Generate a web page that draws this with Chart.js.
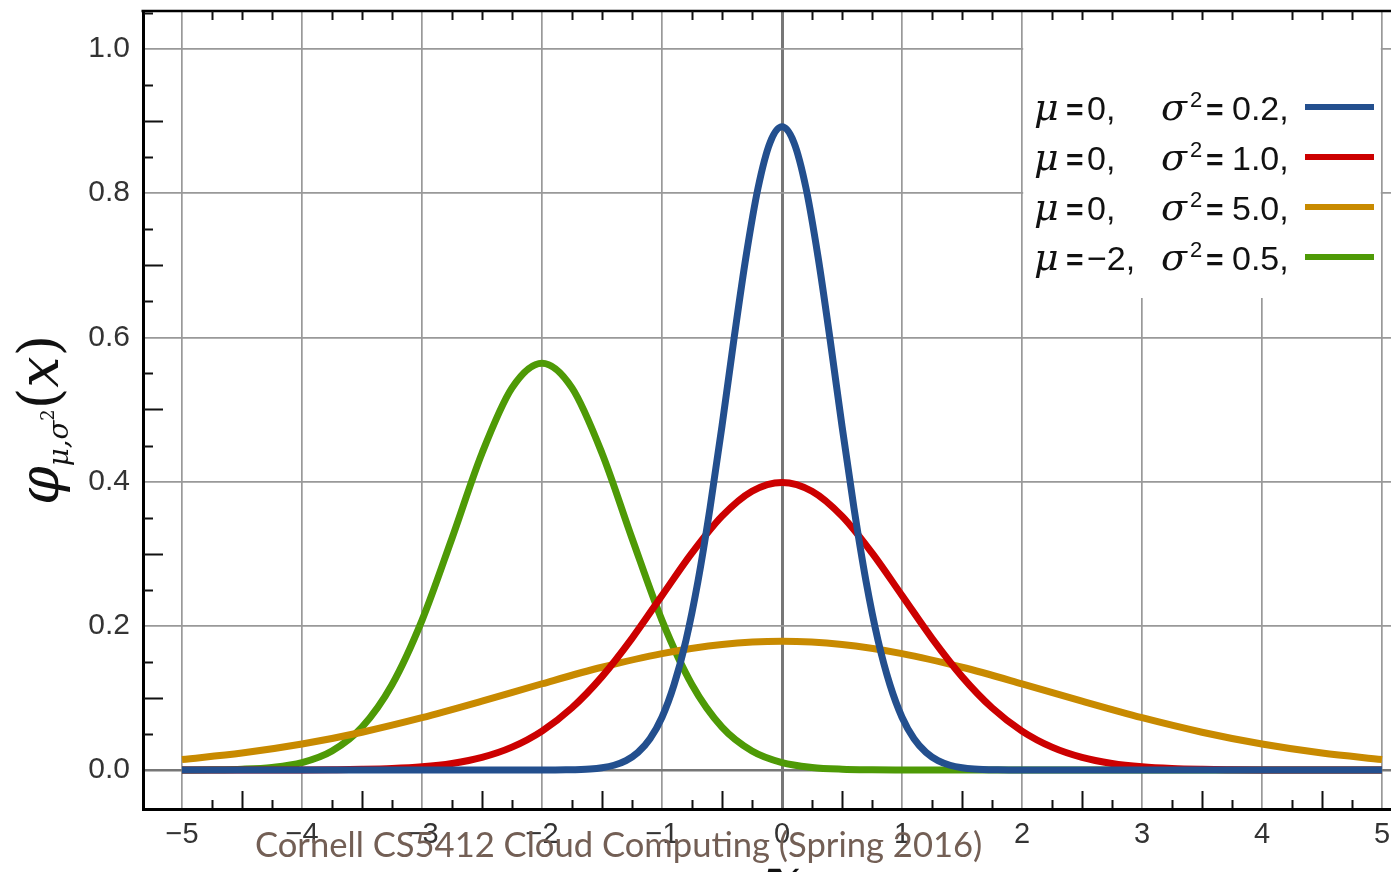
<!DOCTYPE html>
<html><head><meta charset="utf-8">
<script src="https://cdn.jsdelivr.net/npm/chart.js@4.4.0/dist/chart.umd.min.js"></script>
<style>
html,body{margin:0;padding:0;background:#fff;overflow:hidden;width:1391px;height:872px;}
#wrap{position:relative;width:1430px;height:872px;}
#footer{position:absolute;left:255px;top:823px;font-family:Lato,"Open Sans",sans-serif;font-size:34.6px;line-height:1.2;color:#735f55;white-space:nowrap;}
</style></head><body>
<div id="wrap"><canvas id="c" width="1430" height="872"></canvas>
<div id="footer">Cornell CS5412 Cloud Computing (Spring 2016)</div></div>
<script>
// ---- data ----
const xTickValues = [-5,-4,-3,-2,-1,0,1,2,3,4,5];
const xTickLabels = ['\u22125','\u22124','\u22123','\u22122','\u22121','0','1','2','3','4','5'];
const yTickValues = [0,0.2,0.4,0.6,0.8,1.0];
const yTickLabels = ['0.0','0.2','0.4','0.6','0.8','1.0'];

const seriesMu = ['0','0','0','\u22122'];
const seriesSigma2 = ['0.2','1.0','5.0','0.5'];
const seriesColors = ['#234f8e','#cc0000','#c88a00','#4e9a06'];

const blueX = [-5,-4,-3,-2.5,-2,-1.8,-1.6,-1.5,-1.4,-1.3,-1.2,-1.1,-1.0,-0.9,-0.8,-0.7,-0.6,-0.5,-0.4,-0.3,-0.2,-0.1,0,
               0.1,0.2,0.3,0.4,0.5,0.6,0.7,0.8,0.9,1.0,1.1,1.2,1.3,1.4,1.5,1.6,1.8,2,2.5,3,4,5];
const blueY = [0,0,0,0,0.0000,0.0003,0.0015,0.0032,0.0066,0.0130,0.0244,0.0433,0.0732,0.118,0.180,0.262,0.363,0.477,0.598,0.712,0.807,0.870,0.892,
               0.870,0.807,0.712,0.598,0.477,0.363,0.262,0.180,0.118,0.0732,0.0433,0.0244,0.0130,0.0066,0.0032,0.0015,0.0003,0.0000,0,0,0,0];

const redX = [-5,-4.75,-4.5,-4.25,-4,-3.75,-3.5,-3.25,-3,-2.75,-2.5,-2.25,-2,-1.75,-1.5,-1.25,-1,-0.75,-0.5,-0.25,0,
              0.25,0.5,0.75,1,1.25,1.5,1.75,2,2.25,2.5,2.75,3,3.25,3.5,3.75,4,4.25,4.5,4.75,5];
const redY = [0,0,0,0,0.0001,0.0004,0.0009,0.0020,0.0044,0.0091,0.0175,0.0317,0.0540,0.0863,0.1295,0.1826,0.2420,0.3011,0.3521,0.3867,0.3989,
              0.3867,0.3521,0.3011,0.2420,0.1826,0.1295,0.0863,0.0540,0.0317,0.0175,0.0091,0.0044,0.0020,0.0009,0.0004,0.0001,0,0,0,0];

const orangeX = [-5,-4.5,-4,-3.5,-3,-2.5,-2,-1.5,-1,-0.5,0,0.5,1,1.5,2,2.5,3,3.5,4,4.5,5];
const orangeY = [0.0146,0.0235,0.0360,0.0524,0.0725,0.0955,0.1196,0.1425,0.1614,0.1740,0.1784,
                 0.1740,0.1614,0.1425,0.1196,0.0955,0.0725,0.0524,0.0360,0.0235,0.0146];

const greenX = [-5,-4.75,-4.5,-4.25,-4,-3.75,-3.5,-3.25,-3,-2.75,-2.5,-2.25,-2,-1.75,-1.5,-1.25,-1,-0.75,-0.5,-0.25,0,0.25,0.5,0.75,1,1.5,2,3,4,5];
const greenY = [0.0001,0.0003,0.0011,0.0036,0.0103,0.0264,0.0595,0.1183,0.2076,0.3215,0.4394,0.5300,0.5642,
                0.5300,0.4394,0.3215,0.2076,0.1183,0.0595,0.0264,0.0103,0.0036,0.0011,0.0003,0.0001,0,0,0,0,0];

const toPts = (xs, ys) => xs.map((x, i) => ({x: x, y: ys[i]}));
const seriesPoints = [toPts(blueX, blueY), toPts(redX, redY), toPts(orangeX, orangeY), toPts(greenX, greenY)];

// ---- decorations plugin ----
const deco = {
  id: 'deco',
  beforeDatasetsDraw(chart) {
    const ctx = chart.ctx, xs = chart.scales.x, a = chart.chartArea;
    ctx.save();
    ctx.fillStyle = '#fff';
    ctx.fillRect(xs.getPixelForValue(2) + 1.2, a.top + 1, xs.getPixelForValue(5) - xs.getPixelForValue(2) - 2.4, 297 - a.top);
    ctx.restore();
  },
  afterDraw(chart) {
    const ctx = chart.ctx, xs = chart.scales.x, ys = chart.scales.y, a = chart.chartArea;
    ctx.save();
    // top border
    ctx.strokeStyle = '#000'; ctx.lineWidth = 2.5;
    ctx.beginPath(); ctx.moveTo(a.left - 1.5, a.top); ctx.lineTo(a.right, a.top); ctx.stroke();
    // minor ticks
    ctx.lineWidth = 2; ctx.strokeStyle = '#111';
    ctx.beginPath();
    for (let k = -20; k <= 20; k++) {
      if (k % 4 === 0) continue;
      const px = Math.round(xs.getPixelForValue(k / 4)) + 0.5;
      const len = (k % 2 === 0) ? 18 : 9;
      ctx.moveTo(px, a.bottom - 1); ctx.lineTo(px, a.bottom - len);
      ctx.moveTo(px, a.top); ctx.lineTo(px, a.top + 9);
    }
    for (let k = 0; k <= 21; k++) {
      if (k % 4 === 0) continue;
      const py = Math.round(ys.getPixelForValue(k / 20)) + 0.5;
      const len = (k % 2 === 0) ? 20 : 10;
      ctx.moveTo(a.left + 1, py); ctx.lineTo(a.left + len, py);
    }
    ctx.stroke();

    // legend
    chart.data.datasets.forEach((ds, i) => {
      const base = 120 + i * 50;
      ctx.fillStyle = '#111';
      ctx.textBaseline = 'alphabetic';
      ctx.textAlign = 'left';
      ctx.font = 'italic 38px "DejaVu Serif"';
      ctx.fillText('\u03bc', 1034, base);
      ctx.font = 'bold 30px "Liberation Sans"';
      ctx.fillText('=', 1066, base);
      ctx.font = '34px "Liberation Sans"';
      ctx.fillText(seriesMu[i] + ',', 1087, base);
      ctx.font = 'italic 38px "DejaVu Serif"';
      ctx.fillText('\u03c3', 1161, base);
      ctx.font = '22px "Liberation Sans"';
      ctx.fillText('2', 1190, base - 13);
      ctx.font = 'bold 30px "Liberation Sans"';
      ctx.fillText('=', 1206, base);
      ctx.font = '34px "Liberation Sans"';
      ctx.fillText(seriesSigma2[i] + ',', 1232, base);
      ctx.strokeStyle = ds.borderColor; ctx.lineWidth = 6; ctx.lineCap = 'butt';
      ctx.beginPath(); ctx.moveTo(1305, base - 13); ctx.lineTo(1374, base - 13); ctx.stroke();
    });

    // y axis title  φ_{μ,σ²}(x)
    ctx.save();
    ctx.translate(58, 505);
    ctx.rotate(-Math.PI / 2);
    ctx.fillStyle = '#111';
    const big = 'italic 56px "DejaVu Serif"', bigN = '56px "DejaVu Serif"', sub = 'italic 28px "DejaVu Serif"', sup = '18px "DejaVu Serif"';
    const parts = [
      {t: '\u03c6', f: big, dy: 0},
      {t: '\u03bc,\u03c3', f: sub, dy: 10},
      {t: '2', f: sup, dy: -4},
      {t: '(', f: bigN, dy: 0},
      {t: 'x', f: big, dy: 0},
      {t: ')', f: bigN, dy: 0}
    ];
    let total = 0;
    parts.forEach(p => { ctx.font = p.f; p.w = ctx.measureText(p.t).width; total += p.w; });
    ctx.scale(170 / total, 1);
    let cx = 0;
    parts.forEach(p => { ctx.font = p.f; ctx.fillText(p.t, cx, p.dy); cx += p.w; });
    ctx.restore();

    // x axis title
    ctx.font = 'bold italic 56px "DejaVu Serif"';
    ctx.textAlign = 'center';
    ctx.fillStyle = '#111';
    ctx.fillText('x', xs.getPixelForValue(0), 898);
    ctx.restore();
  }
};

new Chart(document.getElementById('c'), {
  type: 'line',
  data: {
    datasets: seriesPoints.map((pts, i) => ({
      label: '\u03bc=' + seriesMu[i] + ', \u03c3\u00b2=' + seriesSigma2[i],
      data: pts,
      borderColor: seriesColors[i],
      backgroundColor: seriesColors[i],
      borderWidth: 7,
      pointRadius: 0,
      fill: false,
      cubicInterpolationMode: 'monotone'
    }))
  },
  options: {
    responsive: false,
    animation: false,
    devicePixelRatio: 1,
    layout: {padding: {top: 11, right: 9, left: 0, bottom: 0}},
    plugins: {legend: {display: false}, tooltip: {enabled: false}},
    scales: {
      x: {
        type: 'linear', min: -5.325, max: 5.325,
        afterBuildTicks: s => { s.ticks = xTickValues.map(v => ({value: v})); },
        afterFit: s => { s.height = 63; s.paddingLeft = 0; s.paddingRight = 0; },
        ticks: {
          callback: v => xTickLabels[xTickValues.indexOf(v)],
          font: {family: 'Liberation Sans', size: 29}, color: '#333', padding: 9,
          maxRotation: 0, autoSkip: false
        },
        grid: {
          color: c => (c.tick && c.tick.value === 0) ? '#777' : '#999',
          lineWidth: c => (c.tick && c.tick.value === 0) ? 3 : 1.7,
          drawTicks: false
        },
        border: {color: '#000', width: 3}
      },
      y: {
        type: 'linear', min: -0.0541, max: 1.0527,
        afterBuildTicks: s => { s.ticks = yTickValues.map(v => ({value: v})); },
        afterFit: s => { s.width = 143; s.paddingTop = 0; s.paddingBottom = 0; },
        ticks: {
          callback: v => yTickLabels[yTickValues.indexOf(v)],
          font: {family: 'Liberation Sans', size: 30}, color: '#333', padding: 13
        },
        grid: {
          color: c => (c.tick && c.tick.value === 0) ? '#777' : '#999',
          lineWidth: c => (c.tick && c.tick.value === 0) ? 2.6 : 1.7,
          drawTicks: false
        },
        border: {color: '#000', width: 3}
      }
    }
  },
  plugins: [deco]
});
</script>
</body></html>
